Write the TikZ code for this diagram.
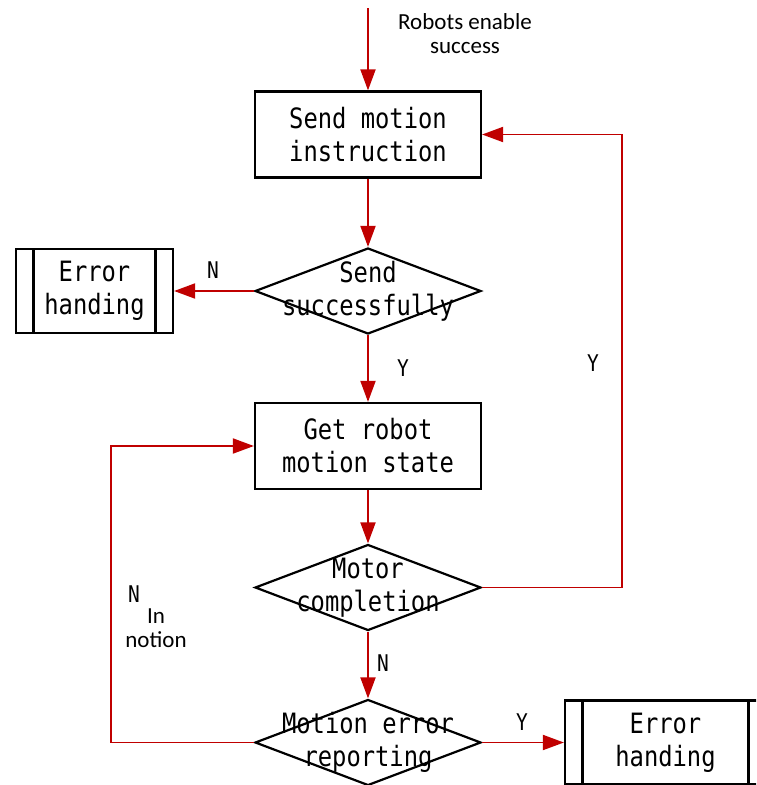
\documentclass[tikz,border=0pt]{standalone}
\usepackage{fontspec}
\usetikzlibrary{shapes.geometric}
\usetikzlibrary{arrows.meta}
\newfontfamily\flowfont[FakeStretch=0.85]{DejaVu Sans Mono}
\newfontfamily\notefont{Carlito}
\definecolor{flowred}{RGB}{192,0,0}

\begin{document}
\begin{tikzpicture}[x=1pt, y=-1pt,
	every node/.style={font=\flowfont\fontsize{28}{33}\selectfont},
	proc/.style={draw, line width=2.2pt, minimum width=226pt, minimum height=86pt, align=center, inner sep=0pt},
	decision/.style={draw, diamond, line width=2.2pt, minimum width=226pt, minimum height=86pt, inner sep=0pt},
	subproc/.style={proc, minimum height=84pt,
		path picture={
			\draw[line width=2.2pt] ([xshift=17.5pt]path picture bounding box.north west) -- ([xshift=17.5pt]path picture bounding box.south west);
			\draw[line width=2.2pt] ([xshift=-17.5pt]path picture bounding box.north east) -- ([xshift=-17.5pt]path picture bounding box.south east);
		}},
	flow/.style={draw=flowred, line width=1.9pt, -{Triangle[length=21pt,width=15pt]}},
	yn/.style={font=\flowfont\fontsize{23}{24}\selectfont, inner sep=0pt},
	note/.style={font=\notefont\fontsize{23}{24}\selectfont, align=center, inner sep=0pt}]
	% 756 x 785, one unit = one pixel
	\useasboundingbox (0,0) rectangle (756,785);
	\clip (0,0) rectangle (756,785);
	
	% main column
	\coordinate (start) at (368,8);
	\node[proc] (send) at (368,134.5) {Send motion\\instruction};
	\node[decision, label={[align=center]center:Send\\successfully}] (sendok) at (368,291) {};
	\node[subproc, minimum width=157pt] (errA) at (94.5,291) {Error\\handing};
	\node[proc] (getstate) at (368,446) {Get robot\\motion state};
	\node[decision, label={[align=center]center:Motor\\completion}] (done) at (368,587.5) {};
	\node[decision, label={[align=center]center:Motion error\\reporting}] (report) at (368,742.5) {};
	\node[subproc, minimum width=201pt] (errB) at (665.5,742.5) {Error\\handing};
	
	% connectors
	\draw[flow] (start) -- (send);
	\draw[flow] (send) -- (sendok);
	\draw[flow] (sendok.west) -- (errA.east);
	\draw[flow] (sendok) -- (getstate);
	\draw[flow] (getstate) -- (done);
	\draw[flow] (done.east) -- ++(140,0) |- (send.east);
	\draw[flow] (done) -- (report);
	\draw[flow] (report.west) -- ++(-143,0) |- (getstate.west);
	\draw[flow] (report.east) -- (errB.west);
	
	% labels
	\node[note] (enable) at (465,34) {Robots enable\\success};
	\node[yn] (nA) at (213,270) {N};
	\node[yn] (yA) at (403,368) {Y};
	\node[yn] (yB) at (593,363) {Y};
	\node[yn] (nB) at (134,594) {N};
	\node[note] (inmotion) at (156,628.5) {In\\notion};
	\node[yn] (nC) at (383,663) {N};
	\node[yn] (yC) at (522,722) {Y};
	
\end{tikzpicture}
\end{document}
